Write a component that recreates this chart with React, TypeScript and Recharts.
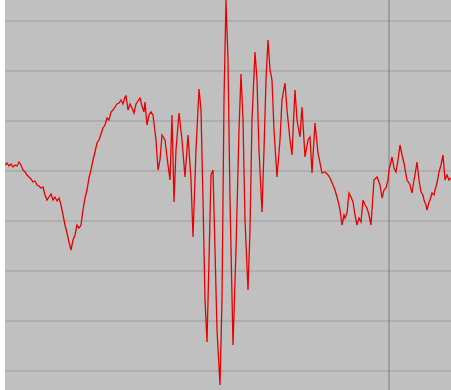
import { LineChart, Line, XAxis, YAxis, ReferenceLine } from "recharts";

// sample times and signal levels (1 unit per grid division)
const times = [
  0, 2, 4, 6, 8, 10, 12, 14, 16, 18,
  20, 22, 24, 26, 28, 30, 32, 34, 36, 38,
  40, 42, 44, 46, 48, 50, 52, 54, 56, 58,
  60, 62, 64, 66, 68, 70, 72, 74, 76, 78,
  80, 82, 84, 86, 88, 90, 92, 94, 96, 98,
  100, 102, 104, 106, 108, 110, 112, 114, 116, 118,
  120, 121, 123, 125, 127, 129, 131, 133, 135, 137,
  139, 140, 142, 144, 146, 148,
  151, 153, 155, 157, 160, 163, 165, 167, 169, 171,
  174, 177, 180, 183, 186, 188, 191, 194, 196, 198,
  200, 202, 204, 206, 208, 210, 212, 215, 217, 219,
  221, 223, 225, 228, 231, 234, 236, 238, 240, 243,
  245, 247, 250, 252, 254, 257, 259, 261, 263, 265,
  267, 269, 272, 275, 277, 280, 282, 285, 287, 289,
  290, 292, 295, 297, 300, 303, 305, 307, 310, 313, 317,
  320, 323, 325, 328, 330, 332, 334, 335, 337, 339,
  340, 342, 344, 346, 348, 350, 352, 354, 356, 358,
  360, 362, 364, 366, 368, 369, 371, 372, 374, 375,
  377, 379, 381, 383, 384, 386, 387, 389, 391, 393,
  395, 397, 399, 401, 402, 404, 405, 407, 409, 410,
  412, 414, 416, 418, 419, 421, 422, 424, 425, 427,
  429, 430, 432, 434, 436, 438, 440, 442, 444, 446,
];

const values = [
  0.12, 0.16, 0.1, 0.14, 0.08, 0.12, 0.1, 0.18, 0.12, 0.02,
  -0.02, -0.08, -0.12, -0.16, -0.22, -0.2, -0.28, -0.3, -0.34, -0.32,
  -0.48, -0.58, -0.52, -0.46, -0.58, -0.52, -0.6, -0.54, -0.68, -0.88,
  -1.08, -1.24, -1.42, -1.58, -1.38, -1.28, -1.08, -1.14, -1.08, -0.78,
  -0.54, -0.38, -0.14, 0.02, 0.22, 0.38, 0.56, 0.62, 0.74, 0.86,
  0.92, 1.06, 1.02, 1.18, 1.22, 1.28, 1.34, 1.36, 1.42, 1.34,
  1.48, 1.5, 1.22, 1.34, 1.26, 1.16, 1.34, 1.4, 1.46, 1.3,
  1.18, 1.38, 0.92, 1.12, 1.18, 1.12,
  0.62, 0.02, 0.22, 0.72, 0.62, 0.12, -0.18, 1.12, -0.62, 0.42,
  1.16, 0.62, -0.12, 0.72, -0.18, -1.32, 0.42, 1.64, 1.22, -0.58,
  -2.58, -3.42, -1.78, -0.08, 0.02, -1.58, -3.18, -4.28, -2.58, 1.42,
  3.42, 2.22, -0.58, -3.48, -1.58, 0.82, 1.94, 1.02, -0.98, -2.38,
  -1.18, 1.02, 2.38, 1.82, 0.42, -0.82, 0.42, 1.82, 2.62, 2.02,
  1.82, 0.82, -0.12, 0.62, 1.42, 1.76, 1.22, 0.62, 0.32, 1.22,
  1.62, 1.02, 0.68, 1.28, 0.28, 0.62, 0.68, -0.04, 0.96, 0.36, -0.04,
  -0.02, -0.08, -0.14, -0.28, -0.38, -0.52, -0.68, -0.78, -1.08, -0.88,
  -0.94, -0.84, -0.44, -0.52, -0.62, -0.88, -1.08, -0.94, -1.02, -0.58,
  -0.68, -0.74, -0.88, -1.08, -0.48, -0.18, -0.14, -0.12, -0.22, -0.28,
  -0.54, -0.38, -0.34, -0.18, 0.02, 0.18, 0.28, 0.06, -0.02, 0.22,
  0.52, 0.32, 0.16, -0.08, -0.18, -0.24, -0.28, -0.44, -0.18, -0.08,
  0.18, -0.18, -0.42, -0.48, -0.58, -0.68, -0.78, -0.62, -0.58, -0.44,
  -0.48, -0.38, -0.24, -0.02, 0.12, 0.32, -0.18, -0.08, -0.18, -0.14,
];

const gridLevels = [3, 2, 1, 0, -1, -2, -3, -4];
const markerTime = 384;

const data = times.map((t, i) => ({ t, v: values[i] }));

export default function App() {
  return (
    <div
      style={{
        position: "absolute",
        left: 0,
        top: 0,
        width: 451,
        height: 390,
        background: "#ffffff",
      }}
    >
      <div style={{ position: "absolute", left: 5, top: 0, width: 446, height: 390, background: "#c0c0c0" }}>
        <LineChart width={446} height={390} data={data} margin={{ top: 0, right: 0, left: 0, bottom: 0 }}>
          <XAxis dataKey="t" type="number" domain={[0, 446]} hide />
          <YAxis type="number" domain={[-4.38, 3.42]} hide allowDataOverflow />
          {gridLevels.map((g) => (
            <ReferenceLine key={g} y={g} stroke="#a9a9a9" strokeWidth={1.5} />
          ))}
          <ReferenceLine x={markerTime} stroke="#7c7c7c" strokeWidth={1} />
          <Line
            dataKey="v"
            type="linear"
            stroke="#e80000"
            strokeWidth={1.3}
            dot={false}
            isAnimationActive={false}
          />
        </LineChart>
      </div>
    </div>
  );
}
